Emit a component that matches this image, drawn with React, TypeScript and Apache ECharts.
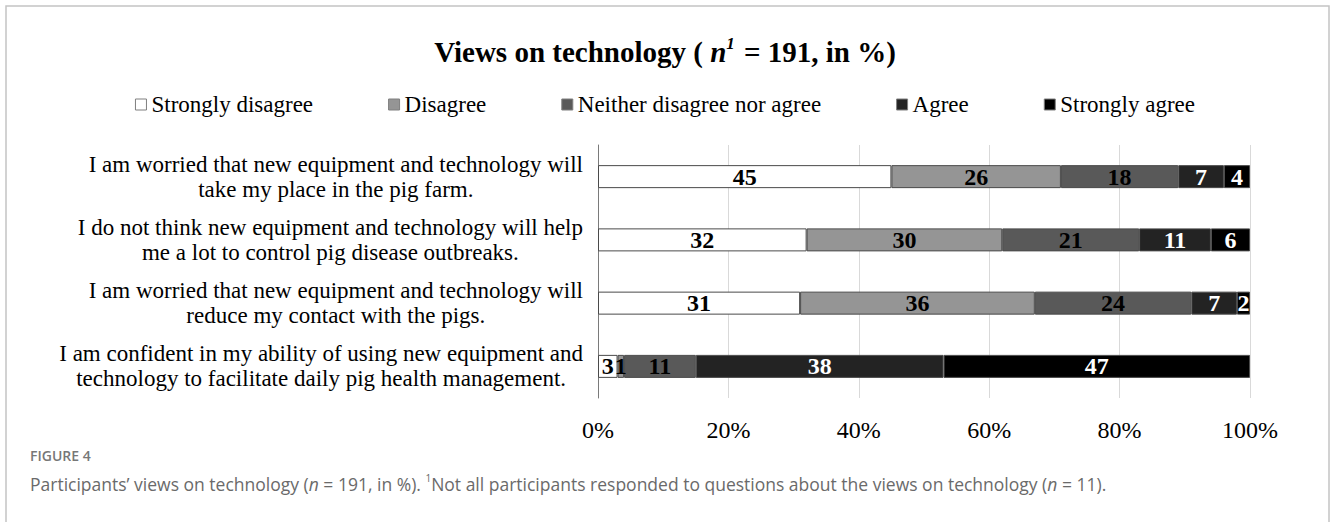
import React, { useEffect, useRef } from "react";
import * as echarts from "echarts";

const categories = [
  "I am worried that new equipment and technology will\ntake my place in the pig farm.",
  "I do not think new equipment and technology will help\nme a lot to control pig disease outbreaks.",
  "I am worried that new equipment and technology will\nreduce my contact with the pigs.",
  "I am confident in my ability of using new equipment and\ntechnology to facilitate daily pig health management.",
];
const seriesNames = [
  "Strongly disagree",
  "Disagree",
  "Neither disagree nor agree",
  "Agree",
  "Strongly agree",
];
const stronglyDisagree = [45, 32, 31, 3];
const disagree = [26, 30, 36, 1];
const neither = [18, 21, 24, 11];
const agree = [7, 11, 7, 38];
const stronglyAgree = [4, 6, 2, 47];
const xTicks = [0, 20, 40, 60, 80, 100];

const SERIF = "'Liberation Serif', 'Times New Roman', serif";
const SANS = "'Open Sans', 'Noto Sans', sans-serif";

export default function App() {
  const ref = useRef<HTMLDivElement>(null);
  useEffect(() => {
    if (!ref.current) return;
    const chart = echarts.init(ref.current, null, { renderer: "svg" });
    const values = [stronglyDisagree, disagree, neither, agree, stronglyAgree];
    const fills = ["#ffffff", "#959595", "#595959", "#232323", "#000000"];
    const labelColors = ["#000", "#000", "#000", "#fff", "#fff"];
    chart.setOption({
      animation: false,
      backgroundColor: "#fff",
      title: {
        left: "center",
        top: 30,
        text: "{b|Views on technology ( }{i|n}{s|1}{b| = 191, in %)}",
        textStyle: {
          rich: {
            b: { fontFamily: SERIF, fontSize: 29, fontWeight: "bold", color: "#000", lineHeight: 34 },
            i: { fontFamily: SERIF, fontSize: 29, fontWeight: "bold", fontStyle: "italic", color: "#000", lineHeight: 34 },
            s: { fontFamily: SERIF, fontSize: 17, fontStyle: "italic", color: "#000", lineHeight: 34, verticalAlign: "top", padding: [0, 2, 0, 0] },
          },
        },
      },
      legend: {
        left: "center",
        top: 88,
        icon: "rect",
        itemWidth: 11,
        itemHeight: 11,
        itemGap: 75,
        data: seriesNames,
        itemStyle: { borderColor: "#7f7f7f", borderWidth: 1 },
        textStyle: { fontFamily: SERIF, fontSize: 23, color: "#000" },
      },
      grid: { left: 598, right: 80, top: 145, bottom: 124, containLabel: false },
      xAxis: {
        type: "value",
        min: 0,
        max: 100,
        interval: 20,
        axisLine: { show: false },
        axisTick: { show: false },
        splitLine: { show: true, lineStyle: { color: "#d9d9d9", width: 1 } },
        axisLabel: {
          formatter: (v: number) => (xTicks.includes(v) ? v + "%" : ""),
          fontFamily: SERIF,
          fontSize: 24,
          color: "#000",
          margin: 20,
        },
      },
      yAxis: {
        type: "category",
        inverse: true,
        data: categories,
        axisLine: { show: true, lineStyle: { color: "#7a7a7a", width: 1 } },
        axisTick: { show: false },
        axisLabel: {
          margin: 15,
          formatter: (v: string) => v.split("\n").map((l) => `{c|${l}}`).join("\n"),
          rich: {
            c: { fontFamily: SERIF, fontSize: 23, color: "#000", lineHeight: 25, align: "center" },
          },
        },
      },
      series: seriesNames.map((name, k) => ({
        name,
        type: "bar",
        stack: "total",
        barWidth: 23,
        data: values[k],
        itemStyle: { color: fills[k], borderColor: "#4a4a4a", borderWidth: 1 },
        label: {
          show: true,
          position: "inside",
          fontFamily: SERIF,
          fontSize: 24,
          fontWeight: "bold",
          color: labelColors[k],
          formatter: (p: any) => String(p.value),
        },
        emphasis: { disabled: true },
      })),
      graphic: [
        {
          type: "rect",
          shape: { x: 6, y: 6, width: 1323, height: 600 },
          style: { fill: "none", stroke: "#c4c4c4", lineWidth: 1.5 },
          silent: true,
        },
        {
          type: "text",
          left: 30,
          top: 448,
          style: { text: "FIGURE 4", fontFamily: SANS, fontSize: 14, fontWeight: 600, fill: "#777" },
        },
        {
          type: "text",
          left: 30,
          top: 473,
          style: {
            text:
              "{r|Participants’ views on technology (}{i|n}{r| = 191, in %). }{s|1}{r|Not all participants responded to questions about the views on technology (}{i|n}{r| = 11).}",
            rich: {
              r: { fontFamily: SANS, fontSize: 17.5, fill: "#6a6a6a", lineHeight: 22 },
              i: { fontFamily: SANS, fontSize: 17.5, fontStyle: "italic", fill: "#6a6a6a", lineHeight: 22 },
              s: { fontFamily: SANS, fontSize: 10, fill: "#6a6a6a", lineHeight: 22, verticalAlign: "top" },
            },
          },
        },
      ],
    });
    return () => chart.dispose();
  }, []);
  return (
    <div
      ref={ref}
      style={{ position: "absolute", left: 0, top: 0, width: 1330, height: 522 }}
    />
  );
}
